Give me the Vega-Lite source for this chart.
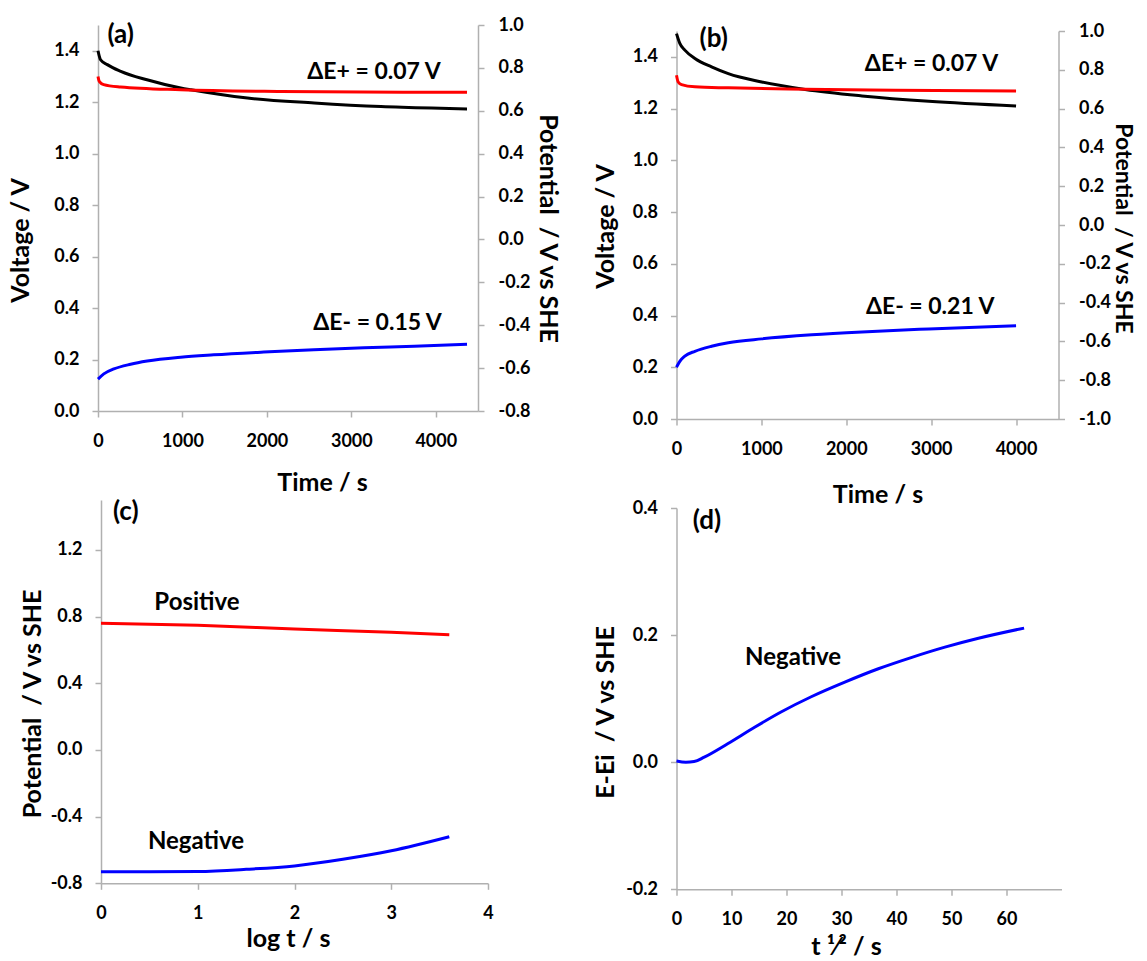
{
  "$schema": "https://vega.github.io/schema/vega-lite/v6.json",
  "background": "white",
  "padding": {"left": 8, "top": 16, "right": 0, "bottom": 0},
  "columns": 2,
  "bounds": "flush",
  "spacing": {"row": 81, "column": 188.5},
  "config": {
    "font": "Lato",
    "view": {"stroke": null},
    "axis": {"grid": false, "domainColor": "#b0b0b0", "domainWidth": 1.5, "tickColor": "#b0b0b0", "tickWidth": 1.5, "tickSize": 6,
      "labelFont": "Lato", "labelFontSize": 18, "labelFontWeight": "bold", "labelColor": "#000000", "labelPadding": 13,
      "titleFont": "Lato", "titleFontSize": 25, "titleFontWeight": "bold", "titleColor": "#000000",
      "labelFlush": false, "labelOverlap": false, "labelBound": false},
    "axisX": {"labelPadding": 15},
    "axisRight": {"labelPadding": 14},
    "text": {"font": "Lato", "fontWeight": "bold", "color": "#000000"}
  },
  "datasets": {
    "aV": [
      {"t": 0, "V": 1.4}, {"t": 30, "V": 1.365}, {"t": 110, "V": 1.346}, {"t": 270, "V": 1.32}, {"t": 580, "V": 1.287},
      {"t": 980, "V": 1.255}, {"t": 1100, "V": 1.248}, {"t": 1770, "V": 1.216}, {"t": 2560, "V": 1.197}, {"t": 3350, "V": 1.183},
      {"t": 3950, "V": 1.177}, {"t": 4370, "V": 1.174}
    ],
    "aE": [
      {"t": 0, "E": 0.76, "el": "pos"}, {"t": 15, "E": 0.737, "el": "pos"}, {"t": 67, "E": 0.722, "el": "pos"}, {"t": 267, "E": 0.711, "el": "pos"},
      {"t": 980, "E": 0.698, "el": "pos"}, {"t": 2165, "E": 0.69, "el": "pos"}, {"t": 3950, "E": 0.686, "el": "pos"}, {"t": 4370, "E": 0.686, "el": "pos"},
      {"t": 0, "E": -0.651, "el": "neg"}, {"t": 69, "E": -0.627, "el": "neg"}, {"t": 188, "E": -0.604, "el": "neg"}, {"t": 386, "E": -0.582, "el": "neg"},
      {"t": 583, "E": -0.567, "el": "neg"}, {"t": 979, "E": -0.549, "el": "neg"}, {"t": 1370, "E": -0.538, "el": "neg"}, {"t": 1963, "E": -0.525, "el": "neg"},
      {"t": 2557, "E": -0.514, "el": "neg"}, {"t": 3150, "E": -0.505, "el": "neg"}, {"t": 3744, "E": -0.498, "el": "neg"}, {"t": 4370, "E": -0.489, "el": "neg"}
    ],
    "bV": [
      {"t": 0, "V": 1.49}, {"t": 39, "V": 1.452}, {"t": 98, "V": 1.426}, {"t": 217, "V": 1.394}, {"t": 413, "V": 1.361},
      {"t": 610, "V": 1.335}, {"t": 1004, "V": 1.303}, {"t": 1516, "V": 1.274}, {"t": 2185, "V": 1.249}, {"t": 2972, "V": 1.228}, {"t": 4000, "V": 1.21}
    ],
    "bE": [
      {"t": 0, "E": 0.772, "el": "pos"}, {"t": 20, "E": 0.737, "el": "pos"}, {"t": 59, "E": 0.724, "el": "pos"}, {"t": 217, "E": 0.712, "el": "pos"},
      {"t": 610, "E": 0.707, "el": "pos"}, {"t": 1516, "E": 0.7, "el": "pos"}, {"t": 2579, "E": 0.695, "el": "pos"}, {"t": 4000, "E": 0.691, "el": "pos"},
      {"t": 0, "E": -0.733, "el": "neg"}, {"t": 39, "E": -0.703, "el": "neg"}, {"t": 98, "E": -0.676, "el": "neg"}, {"t": 217, "E": -0.651, "el": "neg"},
      {"t": 413, "E": -0.625, "el": "neg"}, {"t": 610, "E": -0.607, "el": "neg"}, {"t": 1004, "E": -0.587, "el": "neg"}, {"t": 1594, "E": -0.566, "el": "neg"},
      {"t": 2185, "E": -0.551, "el": "neg"}, {"t": 2972, "E": -0.536, "el": "neg"}, {"t": 4000, "E": -0.519, "el": "neg"}
    ],
    "cE": [
      {"x": 0, "E": 0.76, "el": "pos"}, {"x": 1, "E": 0.748, "el": "pos"}, {"x": 2, "E": 0.726, "el": "pos"}, {"x": 3, "E": 0.706, "el": "pos"}, {"x": 3.6, "E": 0.692, "el": "pos"},
      {"x": 0, "E": -0.731, "el": "neg"}, {"x": 0.5, "E": -0.731, "el": "neg"}, {"x": 1, "E": -0.729, "el": "neg"}, {"x": 1.5, "E": -0.716, "el": "neg"},
      {"x": 2, "E": -0.696, "el": "neg"}, {"x": 2.5, "E": -0.656, "el": "neg"}, {"x": 3, "E": -0.605, "el": "neg"}, {"x": 3.6, "E": -0.521, "el": "neg"}
    ],
    "dE": [
      {"s": 0, "E": 0.002}, {"s": 1.7, "E": 0.0}, {"s": 3.2, "E": 0.001}, {"s": 5.05, "E": 0.008}, {"s": 9.3, "E": 0.029}, {"s": 14.2, "E": 0.055},
      {"s": 19.0, "E": 0.079}, {"s": 24.5, "E": 0.103}, {"s": 30.6, "E": 0.126}, {"s": 36.7, "E": 0.147}, {"s": 42.8, "E": 0.165},
      {"s": 48.8, "E": 0.181}, {"s": 54.9, "E": 0.195}, {"s": 63.2, "E": 0.211}
    ]
  },
  "concat": [
    {
      "width": 380, "height": 394,
      "layer": [
        {"layer": [
          {"data": {"name": "aV"}, "mark": {"type": "line", "color": "#000000", "strokeWidth": 3, "interpolate": "monotone"},
            "encoding": {
              "x": {"field": "t", "type": "quantitative", "scale": {"domain": [0, 4500], "nice": false, "zero": false},
                "axis": {"values": [0, 1000, 2000, 3000, 4000], "format": "d", "title": "Time / s", "titleX": 224, "titleY": 59, "offset": -8}},
              "y": {"field": "V", "type": "quantitative", "scale": {"domain": [0, 1.5], "range": [386, 0], "nice": false, "zero": false},
                "axis": {"values": [0, 0.2, 0.4, 0.6, 0.8, 1.0, 1.2, 1.4], "format": ".1f", "title": "Voltage / V", "titleX": -65, "titleY": 215}}
            }},
          {"data": {"values": [{"t": 3268, "V": 1.317, "label": "ΔE+ = 0.07 V"}, {"t": 3310, "V": 0.342, "label": "ΔE- = 0.15 V"}]},
            "mark": {"type": "text", "fontSize": 23, "align": "center", "baseline": "middle"},
            "encoding": {"x": {"field": "t", "type": "quantitative"}, "y": {"field": "V", "type": "quantitative"}, "text": {"field": "label"}}},
          {"data": {"values": [{"t": 112, "V": 1.461, "label": "(a)"}]},
            "mark": {"type": "text", "fontSize": 26, "align": "left", "baseline": "middle"},
            "encoding": {"x": {"field": "t", "type": "quantitative"}, "y": {"field": "V", "type": "quantitative"}, "text": {"field": "label"}}}
        ]},
        {"data": {"name": "aE"}, "mark": {"type": "line", "strokeWidth": 3, "interpolate": "monotone"},
          "encoding": {
            "x": {"field": "t", "type": "quantitative"},
            "y": {"field": "E", "type": "quantitative", "scale": {"domain": [-0.8, 1.0], "range": [386, 0], "nice": false, "zero": false},
              "axis": {"orient": "right", "values": [-0.8, -0.6, -0.4, -0.2, 0, 0.2, 0.4, 0.6, 0.8, 1.0], "labelExpr": "replace(format(datum.value,'.1f'),'−','-')",
                "title": "Potential\u00a0 / V vs SHE", "titleX": 56, "titleY": 203}},
            "color": {"field": "el", "type": "nominal", "scale": {"domain": ["pos", "neg"], "range": ["#ff0000", "#0000ff"]}, "legend": null}
          }}
      ],
      "resolve": {"scale": {"y": "independent"}}
    },
    {
      "width": 382, "height": 394,
      "layer": [
        {"layer": [
          {"data": {"name": "bV"}, "mark": {"type": "line", "color": "#000000", "strokeWidth": 3, "interpolate": "monotone"},
            "encoding": {
              "x": {"field": "t", "type": "quantitative", "scale": {"domain": [0, 4500], "nice": false, "zero": false},
                "axis": {"values": [0, 1000, 2000, 3000, 4000], "format": "d", "title": "Time / s", "titleX": 201, "titleY": 63}},
              "y": {"field": "V", "type": "quantitative", "scale": {"domain": [0, 1.5], "range": [394, 6], "nice": false, "zero": false},
                "axis": {"values": [0, 0.2, 0.4, 0.6, 0.8, 1.0, 1.2, 1.4], "format": ".1f", "title": "Voltage / V", "titleX": -58.5, "titleY": 201}}
            }},
          {"data": {"values": [{"t": 3004, "V": 1.372, "label": "ΔE+ = 0.07 V"}, {"t": 2988, "V": 0.433, "label": "ΔE- = 0.21 V"}]},
            "mark": {"type": "text", "fontSize": 23, "align": "center", "baseline": "middle"},
            "encoding": {"x": {"field": "t", "type": "quantitative"}, "y": {"field": "V", "type": "quantitative"}, "text": {"field": "label"}}},
          {"data": {"values": [{"t": 271, "V": 1.469, "label": "(b)"}]},
            "mark": {"type": "text", "fontSize": 26, "align": "left", "baseline": "middle"},
            "encoding": {"x": {"field": "t", "type": "quantitative"}, "y": {"field": "V", "type": "quantitative"}, "text": {"field": "label"}}}
        ]},
        {"data": {"name": "bE"}, "mark": {"type": "line", "strokeWidth": 3, "interpolate": "monotone"},
          "encoding": {
            "x": {"field": "t", "type": "quantitative"},
            "y": {"field": "E", "type": "quantitative", "scale": {"domain": [-1.0, 1.0], "range": [394, 6], "nice": false, "zero": false},
              "axis": {"orient": "right", "values": [-1.0, -0.8, -0.6, -0.4, -0.2, 0, 0.2, 0.4, 0.6, 0.8, 1.0], "labelExpr": "replace(format(datum.value,'.1f'),'−','-')",
                "title": "Potential\u00a0 / V vs SHE", "titleX": 52, "titleY": 203, "titleFontSize": 23}},
            "color": {"field": "el", "type": "nominal", "scale": {"domain": ["pos", "neg"], "range": ["#ff0000", "#0000ff"]}, "legend": null}
          }}
      ],
      "resolve": {"scale": {"y": "independent"}}
    },
    {
      "width": 390, "height": 389.3,
      "layer": [
        {"data": {"name": "cE"}, "mark": {"type": "line", "strokeWidth": 3, "interpolate": "monotone"},
          "encoding": {
            "x": {"field": "x", "type": "quantitative", "scale": {"domain": [0, 4], "range": [3, 390], "nice": false, "zero": false},
              "axis": {"values": [0, 1, 2, 3, 4], "format": "d", "title": "log t / s", "titleX": 190, "titleY": 43, "offset": -6}},
            "y": {"field": "E", "type": "quantitative", "scale": {"domain": [-0.8, 1.5], "range": [383.3, 0], "nice": false, "zero": false},
              "axis": {"values": [-0.8, -0.4, 0, 0.4, 0.8, 1.2], "labelExpr": "replace(format(datum.value,'.1f'),'−','-')",
                "title": "Potential\u00a0 / V vs SHE", "titleX": -56, "titleY": 203.5, "offset": -3}},
            "color": {"field": "el", "type": "nominal", "scale": {"domain": ["pos", "neg"], "range": ["#ff0000", "#0000ff"]}, "legend": null}
          }},
        {"data": {"values": [{"x": 0.992, "E": 0.882, "label": "Positive"}, {"x": 0.982, "E": -0.555, "label": "Negative"}]},
          "mark": {"type": "text", "fontSize": 24, "align": "center", "baseline": "middle"},
          "encoding": {"x": {"field": "x", "type": "quantitative"}, "y": {"field": "E", "type": "quantitative"}, "text": {"field": "label"}}},
        {"data": {"values": [{"x": 0.124, "E": 1.428, "label": "(c)"}]},
          "mark": {"type": "text", "fontSize": 26, "align": "left", "baseline": "middle"},
          "encoding": {"x": {"field": "x", "type": "quantitative"}, "y": {"field": "E", "type": "quantitative"}, "text": {"field": "label"}}}
      ]
    },
    {
      "width": 385, "height": 389.3,
      "layer": [
        {"data": {"name": "dE"}, "mark": {"type": "line", "strokeWidth": 3, "color": "#0000ff", "interpolate": "monotone"},
          "encoding": {
            "x": {"field": "s", "type": "quantitative", "scale": {"domain": [0, 70], "nice": false, "zero": false},
              "axis": {"values": [0, 10, 20, 30, 40, 50, 60], "format": "d", "title": "t ¹⁄² / s", "titleX": 169.5, "titleY": 45}},
            "y": {"field": "E", "type": "quantitative", "scale": {"domain": [-0.2, 0.4], "range": [389.3, 8], "nice": false, "zero": false},
              "axis": {"values": [-0.2, 0, 0.2, 0.4], "labelExpr": "replace(format(datum.value,'.1f'),'−','-')",
                "title": "E-Ei\u00a0 / V vs SHE", "titleX": -58.5, "titleY": 212}}
          }},
        {"data": {"values": [{"s": 21.2, "E": 0.164, "label": "Negative"}]},
          "mark": {"type": "text", "fontSize": 24, "align": "center", "baseline": "middle"},
          "encoding": {"x": {"field": "s", "type": "quantitative"}, "y": {"field": "E", "type": "quantitative"}, "text": {"field": "label"}}},
        {"data": {"values": [{"s": 2.95, "E": 0.38, "label": "(d)"}]},
          "mark": {"type": "text", "fontSize": 26, "align": "left", "baseline": "middle"},
          "encoding": {"x": {"field": "s", "type": "quantitative"}, "y": {"field": "E", "type": "quantitative"}, "text": {"field": "label"}}}
      ]
    }
  ]
}
